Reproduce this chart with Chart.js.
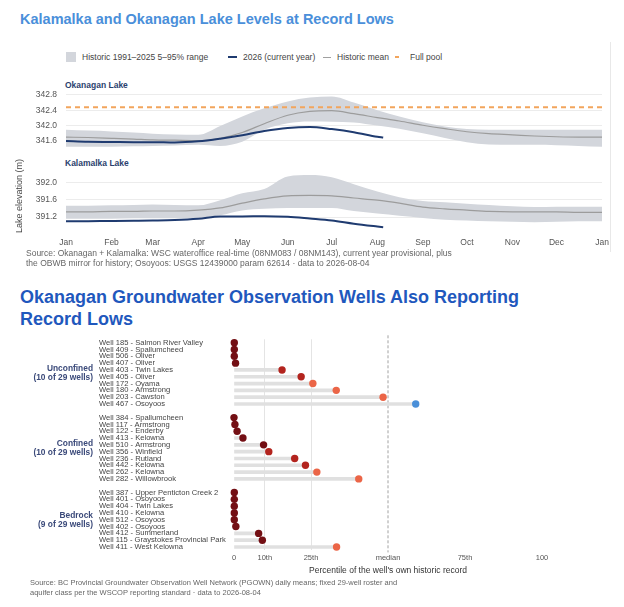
<!DOCTYPE html>
<html>
<head>
<meta charset="utf-8">
<script src="https://cdn.jsdelivr.net/npm/chart.js@4.4.1/dist/chart.umd.min.js"></script>
<style>
  html, body { margin: 0; padding: 0; background: #fff; }
  body { width: 624px; height: 607px; position: relative; overflow: hidden;
         font-family: "Liberation Sans", Arial, Helvetica, sans-serif; }
  .abs { position: absolute; white-space: nowrap; }
  .title1 { font-size: 14.5px; font-weight: bold; color: #4a8fda; line-height: 18px; }
  .title2 { font-size: 18px; font-weight: bold; color: #1f58bd; line-height: 22px; }
  .leg { font-size: 8.5px; color: #444; line-height: 10px; }
  .sub { font-size: 8.5px; font-weight: bold; color: #2b3f6e; line-height: 11px; }
  .src { font-size: 8.5px; color: #666; line-height: 10px; }
  .src2 { font-size: 7.5px; color: #666; line-height: 9.5px; }
  canvas { position: absolute; left: 0; }
</style>
</head>
<body>
<div class="abs title1" style="left:20px;top:10px;">Kalamalka and Okanagan Lake Levels at Record Lows</div>

<div class="abs" style="left:66px;top:52px;width:10px;height:10px;background:#d3d6dc;"></div>
<div class="abs leg" style="left:82px;top:52px;">Historic 1991–2025 5–95% range</div>
<div class="abs" style="left:228px;top:56px;width:9px;height:2px;background:#1f3b70;"></div>
<div class="abs leg" style="left:243px;top:52px;">2026 (current year)</div>
<div class="abs" style="left:323px;top:56.5px;width:8px;height:1.2px;background:#a0a0a0;"></div>
<div class="abs leg" style="left:337px;top:52px;">Historic mean</div>
<div class="abs" style="left:395px;top:56px;width:4px;height:2px;background:#f2a55c;"></div>
<div class="abs leg" style="left:410px;top:52px;">Full pool</div>

<div class="abs" style="left:610px;top:42px;width:1px;height:210px;background:#e8e8e8;"></div>

<div class="abs sub" style="left:65px;top:80px;">Okanagan Lake</div>
<div class="abs sub" style="left:65px;top:158px;">Kalamalka Lake</div>
<canvas id="okChart" width="624" height="82" style="top:80px;width:624px;height:82px;"></canvas>
<canvas id="kaChart" width="624" height="92" style="top:158px;width:624px;height:92px;"></canvas>
<div class="abs leg" style="left:19px;top:196px;font-size:9px;color:#444;transform:translate(-50%,-50%) rotate(-90deg);">Lake elevation (m)</div>

<div class="abs src" style="left:26px;top:248px;">Source: Okanagan + Kalamalka: WSC wateroffice real-time (08NM083 / 08NM143), current year provisional, plus<br>the OBWB mirror for history; Osoyoos: USGS 12439000 param 62614 · data to 2026-08-04</div>

<div class="abs title2" style="left:20px;top:286px;">Okanagan Groundwater Observation Wells Also Reporting<br>Record Lows</div>

<canvas id="wellChart" width="624" height="250" style="top:330px;width:624px;height:250px;"></canvas>

<div class="abs src2" style="left:30px;top:578px;">Source: BC Provincial Groundwater Observation Well Network (PGOWN) daily means; fixed 29-well roster and<br>aquifer class per the WSCOP reporting standard · data to 2026-08-04</div>

<script>
// ---- lake levels (day of year) ----
const STAT_DAYS = [0, 15, 31, 46, 59, 74, 90, 105, 120, 135, 151, 166, 181, 196, 212, 227, 243, 258, 273, 288, 304, 319, 334, 349, 365];
const CUR_DAYS = [0, 15, 31, 46, 59, 74, 90, 105, 120, 135, 151, 166, 181, 196, 212, 216];
const MONTH_DAYS = [0, 31, 59, 90, 120, 151, 181, 212, 243, 273, 304, 334, 365];
const MONTH_LABELS = ['Jan', 'Feb', 'Mar', 'Apr', 'May', 'Jun', 'Jul', 'Aug', 'Sep', 'Oct', 'Nov', 'Dec', 'Jan'];

const okLow  = [341.45, 341.45, 341.45, 341.46, 341.47, 341.48, 341.50, 341.47, 341.58, 341.89, 342.06, 342.11, 342.10, 342.08, 342.00, 341.92, 341.80, 341.68, 341.57, 341.51, 341.50, 341.50, 341.49, 341.47, 341.45];
const okHigh = [341.89, 341.87, 341.85, 341.82, 341.79, 341.77, 341.76, 341.99, 342.24, 342.45, 342.63, 342.73, 342.76, 342.60, 342.40, 342.24, 342.09, 341.98, 341.91, 341.89, 341.89, 341.89, 341.89, 341.89, 341.89];
const okMean = [341.70, 341.69, 341.67, 341.65, 341.63, 341.62, 341.61, 341.67, 341.82, 342.05, 342.27, 342.37, 342.39, 342.31, 342.21, 342.12, 342.01, 341.92, 341.84, 341.79, 341.76, 341.73, 341.71, 341.70, 341.70];
const okCur  = [341.60, 341.58, 341.575, 341.57, 341.57, 341.56, 341.59, 341.66, 341.75, 341.86, 341.94, 341.965, 341.91, 341.83, 341.71, 341.69];
const okFullPool = 342.48;
const okTicks = [341.6, 342.0, 342.4, 342.8];

const kaLow  = [391.16, 391.16, 391.16, 391.17, 391.17, 391.17, 391.18, 391.24, 391.35, 391.39, 391.41, 391.41, 391.41, 391.34, 391.28, 391.23, 391.18, 391.14, 391.12, 391.10, 391.09, 391.08, 391.09, 391.10, 391.10];
const kaHigh = [391.46, 391.46, 391.47, 391.48, 391.49, 391.48, 391.47, 391.59, 391.75, 391.85, 392.14, 392.17, 392.12, 391.96, 391.79, 391.66, 391.57, 391.54, 391.51, 391.48, 391.45, 391.43, 391.44, 391.44, 391.44];
const kaMean = [391.32, 391.32, 391.33, 391.33, 391.34, 391.34, 391.36, 391.41, 391.52, 391.62, 391.69, 391.70, 391.69, 391.64, 391.59, 391.52, 391.43, 391.39, 391.36, 391.33, 391.32, 391.32, 391.32, 391.31, 391.31];
const kaCur  = [391.10, 391.105, 391.11, 391.115, 391.12, 391.13, 391.16, 391.215, 391.215, 391.22, 391.205, 391.165, 391.12, 391.045, 390.98, 390.965];
const kaTicks = [391.2, 391.6, 392.0];

// ---- wells (percentile of own record) ----
const unconfinedWells = ['Well 185 - Salmon River Valley', 'Well 409 - Spallumcheed', 'Well 506 - Oliver', 'Well 407 - Oliver', 'Well 403 - Twin Lakes', 'Well 405 - Oliver', 'Well 172 - Oyama', 'Well 180 - Armstrong', 'Well 203 - Cawston', 'Well 467 - Osoyoos'];
const unconfinedPct = [0.1, 0.1, 0.1, 0.5, 15.6, 21.8, 25.6, 33.2, 48.4, 59.0];
const confinedWells = ['Well 384 - Spallumcheen', 'Well 117 - Armstrong', 'Well 122 - Enderby', 'Well 413 - Kelowna', 'Well 510 - Armstrong', 'Well 356 - Winfield', 'Well 236 - Rutland', 'Well 442 - Kelowna', 'Well 262 - Kelowna', 'Well 282 - Willowbrook'];
const confinedPct = [0.0, 0.3, 1.0, 2.9, 9.6, 11.3, 19.7, 23.2, 26.9, 40.5];
const bedrockWells = ['Well 387 - Upper Penticton Creek 2', 'Well 401 - Osoyoos', 'Well 404 - Twin Lakes', 'Well 410 - Kelowna', 'Well 512 - Osoyoos', 'Well 402 - Osoyoos', 'Well 412 - Summerland', 'Well 115 - Graystokes Provincial Park', 'Well 411 - West Kelowna'];
const bedrockPct = [0.1, 0.1, 0.1, 0.1, 0.1, 0.6, 8.0, 9.2, 33.3];
const groupNames = ['Unconfined', 'Confined', 'Bedrock'];
const groupCounts = ['(10 of 29 wells)', '(10 of 29 wells)', '(9 of 29 wells)'];
const pctTicks = [0, 10, 25, 50, 75, 100];
const pctTickLabels = ['0', '10th', '25th', 'median', '75th', '100'];

const FONT = '"Liberation Sans", Arial, Helvetica, sans-serif';
Chart.defaults.font.family = FONT;
Chart.defaults.animation = false;
Chart.defaults.plugins.legend.display = false;
Chart.defaults.plugins.tooltip.enabled = false;

const pts = (days, vals) => days.map((d, i) => ({ x: d, y: vals[i] }));

// y tick labels (8.5px, padding 9) reserve ~14px above and below the plot area
function lakeChart(id, cfg) {
  const datasets = [
    { data: pts(STAT_DAYS, cfg.low), borderWidth: 0, pointRadius: 0, fill: false, order: 5, cubicInterpolationMode: 'monotone' },
    { data: pts(STAT_DAYS, cfg.high), borderWidth: 0, pointRadius: 0, fill: '-1', backgroundColor: '#d3d6dc', order: 5, cubicInterpolationMode: 'monotone' },
    { data: pts(STAT_DAYS, cfg.mean), borderColor: '#9c9c9c', borderWidth: 1.2, pointRadius: 0, fill: false, order: 3, cubicInterpolationMode: 'monotone' },
    { data: pts(CUR_DAYS, cfg.cur), borderColor: '#1f3b70', borderWidth: 2, pointRadius: 0, fill: false, order: 1, cubicInterpolationMode: 'monotone' }
  ];
  if (cfg.fullPool != null) {
    datasets.push({ data: [{ x: 0, y: cfg.fullPool }, { x: 365, y: cfg.fullPool }], borderColor: '#f2a55c', borderWidth: 2, borderDash: [5, 4], pointRadius: 0, fill: false, order: 2 });
  }
  return new Chart(document.getElementById(id), {
    type: 'line',
    data: { datasets },
    options: {
      responsive: false,
      layout: { padding: { left: 0, right: 22, top: 0, bottom: 0 } },
      scales: {
        x: {
          type: 'linear', min: 0, max: 365, display: cfg.showX,
          afterBuildTicks: s => { s.ticks = MONTH_DAYS.map(v => ({ value: v })); },
          afterFit: s => { s.height = cfg.showX ? 20 : 0; },
          grid: { display: false, drawTicks: false },
          border: { display: false },
          ticks: { autoSkip: false, maxRotation: 0, padding: 8, font: { size: 8.5 }, color: '#555',
                   callback: (v, i) => MONTH_LABELS[i] }
        },
        y: {
          min: cfg.min, max: cfg.max,
          afterBuildTicks: s => { s.ticks = cfg.ticks.map(v => ({ value: v })); },
          afterFit: s => { s.width = 66; },
          grid: { color: '#ececec', drawTicks: false },
          border: { display: false },
          ticks: { autoSkip: false, padding: 9, font: { size: 8.5, lineHeight: 1.2 }, color: '#555', callback: v => v.toFixed(1) }
        }
      }
    }
  });
}

lakeChart('okChart', { low: okLow, high: okHigh, mean: okMean, cur: okCur, fullPool: okFullPool,
  ticks: okTicks, min: 341.42, max: 342.82, showX: false });
lakeChart('kaChart', { low: kaLow, high: kaHigh, mean: kaMean, cur: kaCur, fullPool: null,
  ticks: kaTicks, min: 390.9, max: 392.24, showX: true });

// ---- wells lollipop ----
const groups = [[unconfinedWells, unconfinedPct], [confinedWells, confinedPct], [bedrockWells, bedrockPct]];
const rowLabels = [], rowPct = [], groupSpans = [];
groups.forEach(([names, vals], gi) => {
  if (gi > 0) { rowLabels.push(' '.repeat(gi)); rowPct.push(null); }
  groupSpans.push([rowLabels.length, rowLabels.length + names.length - 1]);
  names.forEach((n, i) => { rowLabels.push(n); rowPct.push(vals[i]); });
});

function dotColor(v) {
  if (v == null) return 'rgba(0,0,0,0)';
  if (v >= 50) return '#4a8fd8';
  if (v >= 25) return '#eb6547';
  if (v >= 10) return '#b3241e';
  return '#730f14';
}

const groupLabelPlugin = {
  id: 'groupLabels',
  afterDraw(chart) {
    const { ctx, scales: { y } } = chart;
    ctx.save();
    ctx.font = 'bold 8.4px ' + FONT;
    ctx.fillStyle = '#3b4a7a';
    ctx.textAlign = 'right';
    ctx.textBaseline = 'middle';
    groupSpans.forEach(([a, b], gi) => {
      const mid = (y.getPixelForValue(a) + y.getPixelForValue(b)) / 2;
      ctx.fillText(groupNames[gi], y.left - 6, mid - 4.5);
      ctx.fillText(groupCounts[gi], y.left - 6, mid + 4.5);
    });
    ctx.restore();
  }
};

const medianLinePlugin = {
  id: 'medianLine',
  beforeDatasetsDraw(chart) {
    const { ctx, chartArea, scales: { x } } = chart;
    const px = x.getPixelForValue(50);
    ctx.save();
    ctx.strokeStyle = '#8a8a8a';
    ctx.lineWidth = 0.8;
    ctx.setLineDash([3, 2]);
    ctx.beginPath();
    ctx.moveTo(px, chartArea.top - 4);
    ctx.lineTo(px, chartArea.bottom + 2);
    ctx.stroke();
    ctx.restore();
  }
};

new Chart(document.getElementById('wellChart'), {
  type: 'bar',
  data: {
    labels: rowLabels,
    datasets: [
      { type: 'bar', data: rowPct, backgroundColor: '#e0e0e0', barThickness: 3, order: 2 },
      { type: 'line', data: rowPct, showLine: false, pointRadius: 3.7, pointBorderWidth: 0,
        pointBackgroundColor: rowPct.map(dotColor), clip: false, order: 1 }
    ]
  },
  options: {
    responsive: false,
    indexAxis: 'y',
    layout: { padding: { left: 99, right: 82, top: 9.3, bottom: 0 } },
    scales: {
      x: {
        type: 'linear', min: 0, max: 100,
        afterBuildTicks: s => { s.ticks = pctTicks.map(v => ({ value: v })); },
        afterFit: s => { s.height = 29.6; },
        grid: { drawTicks: false, color: c => (c.tick && (c.tick.value === 10 || c.tick.value === 25)) ? '#e4e4e4' : 'rgba(0,0,0,0)' },
        border: { display: false },
        ticks: { autoSkip: false, maxRotation: 0, padding: 3, font: { size: 7.5 }, color: '#555',
                 callback: (v, i) => pctTickLabels[i] },
        title: { display: true, text: "Percentile of the well's own historic record", font: { size: 8.5 }, color: '#333',
                 padding: { top: 0, bottom: 4 } }
      },
      y: {
        type: 'category', offset: true,
        afterFit: s => { s.width = 135; },
        grid: { display: false },
        border: { display: false },
        ticks: { autoSkip: false, crossAlign: 'far', padding: 0, font: { size: 7.6 }, color: '#444' }
      }
    }
  },
  plugins: [groupLabelPlugin, medianLinePlugin]
});
</script>
</body>
</html>
